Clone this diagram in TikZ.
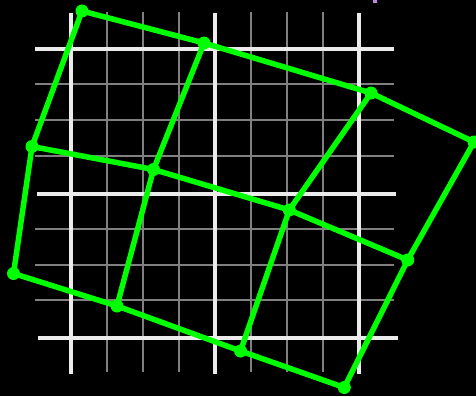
\documentclass[tikz,border=0pt]{standalone}
\definecolor{gridminor}{RGB}{128,128,128}
\definecolor{gridmajor}{RGB}{235,235,235}
\definecolor{lime}{RGB}{0,255,0}
\definecolor{markviolet}{RGB}{200,130,235}
\begin{document}
\begin{tikzpicture}[x=1pt,y=-1pt,
  minor/.style={draw=gridminor,line width=2pt},
  major/.style={draw=gridmajor,line width=4pt},
  edge/.style={draw=lime,line width=5.5pt,line join=round},
  pt/.style={circle,fill=lime,inner sep=0pt,minimum size=13pt}]
\fill[black] (0,0) rectangle (476,396);
\useasboundingbox (0,0) rectangle (476,396);
% minor grid
\foreach \x in {106.7,142.7,178.7,250.7,286.7,322.7}
  \draw[minor] (\x,12.3) -- (\x,372);
\foreach \y in {84.3,120.3,156.3,228.7,264.7,300.3}
  \draw[minor] (35,\y) -- (394.3,\y);
% major grid
\foreach \x in {70.7,214.5,358.7}
  \draw[major] (\x,13.3) -- (\x,373.7);
\draw[major] (35,49.3) -- (394.3,49.3);
\draw[major] (36.7,193.7) -- (396,193.7);
\draw[major] (38,337.7) -- (397.7,337.7);
% tiny mark
\fill[markviolet] (373.3,0) rectangle (376.7,3);
% points
\coordinate (A) at (82,11);
\coordinate (B) at (204,43);
\coordinate (C) at (371,93);
\coordinate (D) at (474,142);
\coordinate (E) at (32,146.5);
\coordinate (F) at (153.5,169.5);
\coordinate (G) at (289.3,210);
\coordinate (H) at (407.7,260);
\coordinate (I) at (13.5,273.5);
\coordinate (J) at (117,306);
\coordinate (K) at (240.5,351);
\coordinate (L) at (344.3,387.5);
\draw[edge] (A) -- (B) -- (C) -- (D);
\draw[edge] (E) -- (F) -- (G) -- (H);
\draw[edge] (I) -- (J) -- (K) -- (L);
\draw[edge] (A) -- (E) -- (I);
\draw[edge] (B) -- (F) -- (J);
\draw[edge] (C) -- (G) -- (K);
\draw[edge] (D) -- (H) -- (L);
\foreach \p in {A,B,C,D,E,F,G,H,I,J,K,L}
  \node[pt] (n\p) at (\p) {};
\end{tikzpicture}
\end{document}
